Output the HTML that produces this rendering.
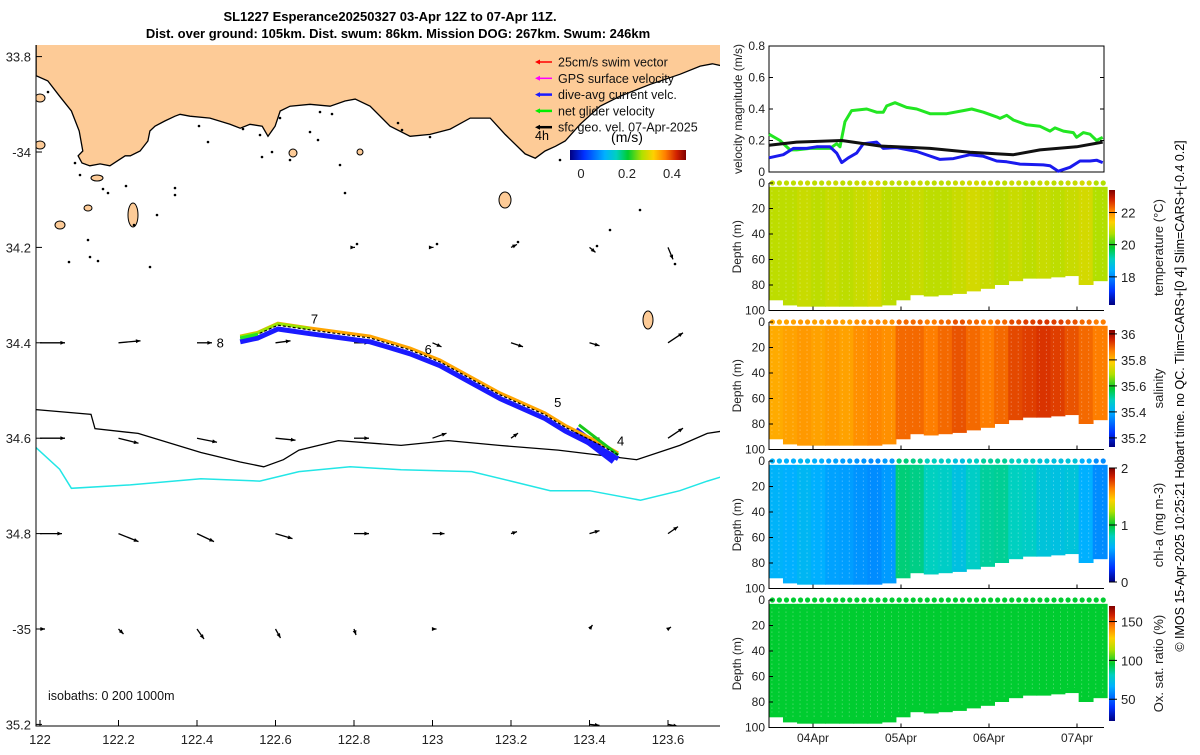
<!DOCTYPE html>
<html><head><meta charset="utf-8">
<style>
html,body{margin:0;padding:0;background:#fff;}
body{width:1200px;height:750px;overflow:hidden;font-family:"Liberation Sans",sans-serif;}
svg text{font-family:"Liberation Sans","DejaVu Sans",sans-serif;}
</style></head>
<body>
<svg id="fig" width="1200" height="750" viewBox="0 0 1200 750" xmlns="http://www.w3.org/2000/svg">
<defs>
<linearGradient id="jetH" x1="0" x2="1" y1="0" y2="0">
<stop offset="0" stop-color="#000080"/><stop offset="0.12" stop-color="#0030ff"/><stop offset="0.3" stop-color="#00b0ff"/><stop offset="0.4" stop-color="#00d0c0"/><stop offset="0.5" stop-color="#00cc30"/><stop offset="0.62" stop-color="#b0e000"/><stop offset="0.72" stop-color="#ffd000"/><stop offset="0.82" stop-color="#ff8000"/><stop offset="0.92" stop-color="#d02000"/><stop offset="1" stop-color="#800000"/>
</linearGradient>
<linearGradient id="jetV" x1="0" x2="0" y1="1" y2="0">
<stop offset="0" stop-color="#000080"/><stop offset="0.12" stop-color="#0030ff"/><stop offset="0.3" stop-color="#00b0ff"/><stop offset="0.4" stop-color="#00d0c0"/><stop offset="0.5" stop-color="#00cc30"/><stop offset="0.62" stop-color="#b0e000"/><stop offset="0.72" stop-color="#ffd000"/><stop offset="0.82" stop-color="#ff8000"/><stop offset="0.92" stop-color="#d02000"/><stop offset="1" stop-color="#800000"/>
</linearGradient>
<clipPath id="mapclip"><rect x="36" y="45" width="684" height="681"/></clipPath>
</defs>
<text x="390" y="21" font-size="13" font-weight="bold" text-anchor="middle">SL1227 Esperance20250327 03-Apr 12Z to 07-Apr 11Z.</text>
<text x="398" y="38" font-size="13" font-weight="bold" text-anchor="middle">Dist. over ground: 105km. Dist. swum: 86km. Mission DOG: 267km. Swum: 246km</text>
<g id="map"></g>
<g id="vel"></g>
<g id="sec"></g>
<text transform="translate(1184,396) rotate(-90)" font-size="12.5" text-anchor="middle">© IMOS 15-Apr-2025 10:25:21 Hobart time. no QC. Tlim=CARS+[0 4] Slim=CARS+[-0.4 0.2]</text>
</svg>
<script>
// ---------- DATA ----------
const lonTicks=[122,122.2,122.4,122.6,122.8,123,123.2,123.4,123.6];
const latTicks=[33.8,34,34.2,34.4,34.6,34.8,35,35.2];
const latTickLabels=["33.8","-34","34.2","34.4","34.6","34.8","-35","35.2"];
const coastLon=[121.99,122.02,122.05,122.08,122.1,122.109,122.097,122.107,122.127,122.153,122.178,122.217,122.23,122.255,122.275,122.28,122.293,122.318,122.344,122.357,122.382,122.433,122.484,122.51,122.535,122.566,122.581,122.599,122.612,122.637,122.688,122.739,122.777,122.803,122.841,122.892,122.943,122.994,123.045,123.096,123.147,123.185,123.236,123.262,123.287,123.313,123.338,123.376,123.427,123.478,123.555,123.631,123.682,123.713,123.74];
const coastLat=[33.84,33.851,33.883,33.914,33.956,33.998,34.008,34.023,34.029,34.025,34.029,34.008,34.008,33.998,33.977,33.956,33.946,33.935,33.925,33.921,33.925,33.929,33.942,33.95,33.942,33.946,33.967,33.946,33.914,33.904,33.9,33.904,33.893,33.889,33.904,33.946,33.967,33.963,33.952,33.929,33.929,33.963,34.004,34.013,33.998,33.988,33.977,33.942,33.904,33.883,33.858,33.837,33.82,33.815,33.82];
const iso200Lon=[121.99,122.13,122.14,122.25,122.41,122.51,122.57,122.62,122.66,122.76,122.92,123.04,123.17,123.32,123.42,123.52,123.63,123.7,123.74];
const iso200Lat=[34.54,34.55,34.58,34.59,34.63,34.65,34.66,34.645,34.625,34.605,34.615,34.605,34.615,34.625,34.635,34.645,34.615,34.59,34.585];
const iso1000Lon=[121.99,122.05,122.08,122.23,122.41,122.56,122.66,122.79,122.92,123.1,123.2,123.3,123.4,123.53,123.63,123.7,123.74];
const iso1000Lat=[34.62,34.665,34.705,34.698,34.685,34.69,34.67,34.66,34.666,34.67,34.69,34.71,34.71,34.73,34.71,34.69,34.68];
const trackLon=[122.51,122.555,122.606,122.688,122.841,122.943,123.019,123.172,123.287,123.338,123.427,123.473];
const trackLat=[34.39,34.382,34.363,34.373,34.39,34.415,34.44,34.509,34.551,34.577,34.614,34.635];
const loopLon=[123.373,123.473];
const loopLat=[34.572,34.635];
const dayLabels=["4","5","6","7","8"];
const dayLon=[123.47,123.31,122.98,122.69,122.45];
const dayLat=[34.615,34.535,34.423,34.36,34.41];
const arrLon=[122,122.2,122.4,122.6,122.8,123,123.2,123.4,123.6];
const arrLat=[34.2,34.4,34.6,34.8,35.0,35.2];
const arrU=[[0,0,0,0,0.01,0.01,0.06,0.06,0.05],[0.25,0.22,0.15,0.15,0.15,0.09,0.12,0.1,0.15],[0.25,0.2,0.2,0.2,0.15,0.14,0.07,0.1,0.15],[0.22,0.2,0.17,0.17,0.15,0.12,0.06,0.1,0.1],[0.05,0.05,0.07,0.05,0.02,0.04,0,0.03,0.03],[0,0,0,0,0,0,0,0.1,0.1]];
const arrV=[[0,0,0,0,0,0,-0.03,0.05,0.12],[0,-0.02,0,-0.02,0,0.04,0.04,0.03,-0.1],[0,0.05,0.04,0.02,0,-0.05,-0.05,0,-0.1],[0,0.08,0.08,0.05,0,0,-0.02,-0.03,-0.07],[0,0.05,0.1,0.09,0.06,0,0,-0.04,-0.02],[0,0,0,0,0,0,0,0.01,0.02]];
// velocity panel
const gT=[0,0.125,0.239,0.314,0.466,0.693,0.769,0.807,0.864,0.939,1.11,1.223,1.299,1.337,1.432,1.564,1.678,1.83,2.019,2.208,2.303,2.436,2.587,2.625,2.701,2.777,2.928,3.08,3.193,3.25,3.345,3.458,3.496,3.572,3.648,3.723,3.792];
const gV=[0.24,0.2,0.14,0.14,0.15,0.15,0.18,0.16,0.32,0.39,0.4,0.38,0.38,0.42,0.44,0.41,0.4,0.37,0.37,0.39,0.4,0.38,0.35,0.34,0.36,0.33,0.3,0.29,0.26,0.28,0.26,0.25,0.22,0.25,0.24,0.2,0.22];
const bT=[0,0.163,0.277,0.428,0.542,0.693,0.769,0.826,0.902,0.996,1.072,1.223,1.299,1.451,1.678,1.943,2.095,2.284,2.436,2.587,2.701,2.852,3.117,3.193,3.288,3.42,3.534,3.648,3.723,3.792];
const bV=[0.09,0.11,0.15,0.15,0.16,0.16,0.12,0.06,0.09,0.12,0.18,0.19,0.15,0.155,0.13,0.08,0.085,0.11,0.1,0.07,0.065,0.05,0.045,0.04,0.005,0.03,0.07,0.07,0.075,0.06];
const kT=[0,0.314,0.826,1.261,1.83,2.284,2.777,3.08,3.496,3.792];
const kV=[0.17,0.19,0.2,0.165,0.15,0.125,0.11,0.14,0.16,0.19];
const velTicks=[0,0.2,0.4,0.6,0.8];
const dateTicks=[0.5,1.5,2.5,3.5];
const dateLabels=["04Apr","05Apr","06Apr","07Apr"];
// sections: 24 columns across time (days from 03-Apr 12Z)
const colT=[0.08,0.24,0.4,0.56,0.72,0.88,1.04,1.2,1.36,1.52,1.68,1.84,2.0,2.16,2.32,2.48,2.64,2.8,2.96,3.12,3.28,3.44,3.6,3.76];
const maxDepth=[92,96,97,97,97,97,97,97,96,92,88,89,88,87,85,83,80,77,75,75,74,73,80,77];
const tempVals=[20.8,20.8,20.9,20.8,20.9,20.8,20.9,21.0,20.8,20.8,20.9,20.8,20.8,20.9,21.0,20.9,20.8,20.9,20.8,20.9,20.8,20.9,21.0,20.7];
const salVals=[35.82,35.83,35.84,35.83,35.84,35.83,35.85,35.86,35.85,35.89,35.89,35.87,35.89,35.91,35.89,35.87,35.89,35.92,35.93,35.94,35.93,35.91,35.89,35.87];
const chlVals=[0.62,0.6,0.64,0.6,0.56,0.55,0.52,0.5,0.54,0.9,0.88,0.8,0.78,0.7,0.78,0.85,0.86,0.8,0.78,0.72,0.7,0.72,0.6,0.5];
const oxVals=[96,96,96,96,96,96,96,96,96,96,96,96,96,96,96,96,96,96,96,96,96,96,96,96];
</script>
<script>
const NS="http://www.w3.org/2000/svg";
function mk(tag,attrs,parent){const e=document.createElementNS(NS,tag);for(const k in attrs)e.setAttribute(k,attrs[k]);parent.appendChild(e);return e;}
const stops=[[0,[0,0,128]],[0.12,[0,48,255]],[0.3,[0,176,255]],[0.4,[0,208,192]],[0.5,[0,204,48]],[0.62,[176,224,0]],[0.72,[255,208,0]],[0.82,[255,128,0]],[0.92,[208,32,0]],[1,[128,0,0]]];
function cmap(x){x=Math.max(0,Math.min(1,x));for(let i=1;i<stops.length;i++){if(x<=stops[i][0]){const a=stops[i-1],b=stops[i];const f=(x-a[0])/(b[0]-a[0]);const c=a[1].map((v,j)=>Math.round(v+(b[1][j]-v)*f));return `rgb(${c[0]},${c[1]},${c[2]})`;}}return "rgb(128,0,0)";}

// ---------- MAP ----------
const map=document.getElementById('map');
const X=lon=>40+(lon-122)*392.5;
const Y=lat=>152+(lat-34)*477;
const mg=mk('g',{'clip-path':'url(#mapclip)'},map);
let d=`M${X(coastLon[0])},30 `;
coastLon.forEach((l,i)=>{d+=`L${X(l).toFixed(1)},${Y(coastLat[i]).toFixed(1)} `;});
d+=`L740,30 Z`;
let land=mk('path',{d:d,fill:'#fdcb97',stroke:'#000','stroke-width':1.3},mg);


const islands=[[133,215,5,12],[505,200,6,8],[648,320,5,9],[40,98,5,4],[40,145,5,4],[97,178,6,3],[60,225,5,4],[88,208,4,3],[293,153,4,4],[360,152,3,3]];
islands.forEach(s=>{let e=mk('ellipse',{cx:s[0],cy:s[1],rx:s[2],ry:s[3],fill:'#fdcb97',stroke:'#000','stroke-width':1},mg);});
const dots=[[48,92],[75,163],[80,175],[103,189],[108,193],[88,240],[90,257],[69,262],[98,261],[126,186],[134,225],[157,215],[150,267],[175,188],[175,195],[199,126],[208,142],[243,129],[260,135],[262,157],[272,152],[280,118],[290,160],[310,132],[318,140],[320,112],[332,114],[340,165],[345,193],[357,244],[398,123],[402,130],[430,137],[437,244],[518,242],[597,246],[675,264],[560,160],[610,230],[640,210]];
dots.forEach(p=>{let e=mk('circle',{cx:p[0],cy:p[1],r:1.3,fill:'#000'},mg);});
function line(lons,lats,attrs,name){let dd='';lons.forEach((l,i)=>{dd+=(i?'L':'M')+X(l).toFixed(1)+','+Y(lats[i]).toFixed(1)+' ';});const e=mk('path',Object.assign({d:dd,fill:'none'},attrs),mg);return e;}
line(iso200Lon,iso200Lat,{stroke:'#000','stroke-width':1.3},'isobath-200m');
line(iso1000Lon,iso1000Lat,{stroke:'#22e6e6','stroke-width':1.5},'isobath-1000m');
const sc=100;
arrLat.forEach((la,r)=>{arrLon.forEach((lo,c)=>{const u=arrU[r][c],v=arrV[r][c];const len=Math.hypot(u,v);if(len<0.005)return;const x0=X(lo),y0=Y(la);const x1=x0+u*sc,y1=y0+v*sc;const a=Math.atan2(v,u);const g=mk('g',{},mg);mk('line',{x1:x0,y1:y0,x2:x1,y2:y1,stroke:'#000','stroke-width':1.3},g);const h=5;mk('polygon',{points:`${x1},${y1} ${x1-h*Math.cos(a-0.4)},${y1-h*Math.sin(a-0.4)} ${x1-h*Math.cos(a+0.4)},${y1-h*Math.sin(a+0.4)}`,fill:'#000'},g);});});
line(trackLon,trackLat.map(v=>v+0.008),{stroke:'#1a1aff','stroke-width':5,'stroke-linejoin':'round'},'dive-avg-current-vectors');
line(loopLon.map(v=>v-0.01),loopLat.map(v=>v+0.012),{stroke:'#1a1aff','stroke-width':8},'dive-avg-current-loop');
line(trackLon,trackLat.map(v=>v-0.004),{stroke:'#ffa500','stroke-width':3},'track-colored');
line(trackLon.slice(0,4),trackLat.slice(0,4).map(v=>v-0.003),{stroke:'#9be600','stroke-width':3},'track-colored-west');
line(loopLon,loopLat,{stroke:'#19c819','stroke-width':3},'net-glider-velocity-segment');
line(trackLon,trackLat,{stroke:'#000','stroke-width':1.2,'stroke-dasharray':'3,2'},'glider-track');
line([122.51,122.555],[34.39,34.382],{stroke:'#22e622','stroke-width':3},'track-start');
dayLabels.forEach((t,i)=>{const e=mk('text',{x:X(dayLon[i]),y:Y(dayLat[i]),'font-size':13},mg);e.textContent=t;});
let fr=mk('path',{d:'M36,45 V726 H720',fill:'none',stroke:'#000','stroke-width':1},map);
lonTicks.forEach(l=>{mk('line',{x1:X(l),x2:X(l),y1:726,y2:720,stroke:'#000'},map);const t=mk('text',{x:X(l),y:744,'font-size':13,'text-anchor':'middle',fill:'#222'},map);t.textContent=String(l);});
latTicks.forEach((l,i)=>{mk('line',{x1:36,x2:42,y1:Y(l),y2:Y(l),stroke:'#000'},map);const t=mk('text',{x:31,y:Y(l)+5,'font-size':13,'text-anchor':'end',fill:'#222'},map);t.textContent=latTickLabels[i];});
const leg=[['#ff0000','25cm/s swim vector'],['#ff00ff','GPS surface velocity'],['#1a1aff','dive-avg current velc.'],['#00ee00','net glider velocity'],['#000','sfc geo. vel. 07-Apr-2025']];
leg.forEach((L,i)=>{const y=62+i*16.3;const g=mk('g',{},map);mk('line',{x1:538,x2:552,y1:y,y2:y,stroke:L[0],'stroke-width':i>=2?2.5:1.5},g);mk('polygon',{points:`535,${y} 540,${y-2.5} 540,${y+2.5}`,fill:L[0]},g);const t=mk('text',{x:558,y:y+4.5,'font-size':12.5,fill:'#111'},g);t.textContent=L[1];});
let t4=mk('text',{x:535,y:140,'font-size':12.5},map);t4.textContent='4h';
let tu=mk('text',{x:627,y:142,'font-size':14,'text-anchor':'middle'},map);tu.textContent='(m/s)';
let cb=mk('rect',{x:570,y:150,width:116,height:10,fill:'url(#jetH)'},map);
[['0',581],['0.2',627],['0.4',672]].forEach(a=>{const t=mk('text',{x:a[1],y:178,'font-size':13,'text-anchor':'middle',fill:'#222'},map);t.textContent=a[0];});
let iso=mk('text',{x:48,y:700,'font-size':12.5,fill:'#111'},map);iso.textContent='isobaths: 0   200   1000m';

// ---------- VELOCITY PANEL ----------
const vel=document.getElementById('vel');
const TX=t=>769+t*88;
const VY=v=>172-v*157.5;
mk('rect',{x:769,y:46,width:335,height:126,fill:'none',stroke:'#000'},vel);
velTicks.forEach(v=>{mk('line',{x1:769,x2:773,y1:VY(v),y2:VY(v),stroke:'#000'},vel);mk('line',{x1:1104,x2:1100,y1:VY(v),y2:VY(v),stroke:'#000'},vel);const t=mk('text',{x:765,y:VY(v)+4,'font-size':12,'text-anchor':'end',fill:'#222'},vel);t.textContent=String(v);});
function vline(T,V,col,name){let dd='';T.forEach((t,i)=>{dd+=(i?'L':'M')+TX(t).toFixed(1)+','+VY(V[i]).toFixed(1)+' ';});const e=mk('path',{d:dd,fill:'none',stroke:col,'stroke-width':3,'stroke-linejoin':'round'},vel);}
vline(gT,gV,'#22e622','net-glider-speed-line');
vline(bT,bV,'#1a1aee','dive-avg-current-line');
vline(kT,kV,'#111','geostrophic-speed-line');
let vy=mk('text',{transform:'translate(742,109) rotate(-90)','font-size':12,'text-anchor':'middle',fill:'#222'},vel);vy.textContent='velocity magnitude (m/s)';

// ---------- SECTIONS ----------
const sec=document.getElementById('sec');
const panels=[
 {vals:tempVals,top:183,min:16.25,max:23.4,cbTop:190,cbBot:305,ticks:[18,20,22],label:'temperature (°C)',name:'temperature'},
 {vals:salVals,top:322,min:35.13,max:36.03,cbTop:330,cbBot:447,ticks:[35.2,35.4,35.6,35.8,36],label:'salinity',name:'salinity'},
 {vals:chlVals,top:461,min:0,max:2,cbTop:468,cbBot:582,ticks:[0,1,2],label:'chl-a (mg m-3)',name:'chl-a'},
 {vals:oxVals,top:600,min:22,max:170,cbTop:606,cbBot:721,ticks:[50,100,150],label:'Ox. sat. ratio (%)',name:'oxygen'}];
const colW=14.3;
panels.forEach((P,pi)=>{
 const g=mk('g',{},sec);
 const DY=z=>P.top+z*1.275;
 P.vals.forEach((v,i)=>{const x=TX(colT[i])-colW/2;const r=mk('rect',{x:x,y:DY(3),width:colW+0.6,height:DY(maxDepth[i])-DY(3),fill:cmap((v-P.min)/(P.max-P.min))},g);
  for(let k=0;k<2;k++){const c=mk('circle',{cx:x+3.5+k*7,cy:DY(0),r:2.6,fill:cmap((v-P.min)/(P.max-P.min))},g);}
  for(let k=0;k<2;k++){mk('line',{x1:x+3+k*7,x2:x+3+k*7,y1:DY(6),y2:DY(maxDepth[i]-4),stroke:'rgba(255,255,255,0.4)','stroke-width':1,'stroke-dasharray':'1,3'},g);}
 });
 mk('path',{d:`M769,${DY(0)} V${DY(100)} H1104`,fill:'none',stroke:'#000'},g);
 [0,20,40,60,80,100].forEach(z=>{mk('line',{x1:769,x2:773,y1:DY(z),y2:DY(z),stroke:'#000'},g);const t=mk('text',{x:765,y:DY(z)+4,'font-size':12,'text-anchor':'end',fill:'#222'},g);t.textContent=String(z);});
 dateTicks.forEach(t=>{mk('line',{x1:TX(t),x2:TX(t),y1:DY(100),y2:DY(100)-4,stroke:'#000'},g);});
 const yl=mk('text',{transform:`translate(741,${DY(50)}) rotate(-90)`,'font-size':12,'text-anchor':'middle',fill:'#222'},g);yl.textContent='Depth (m)';
 const cb=mk('rect',{x:1109,y:P.cbTop,width:6,height:P.cbBot-P.cbTop,fill:'url(#jetV)'},g);
 const CY=v=>P.cbBot-(v-P.min)/(P.max-P.min)*(P.cbBot-P.cbTop);
 P.ticks.forEach(v=>{mk('line',{x1:1109,x2:1117,y1:CY(v),y2:CY(v),stroke:'#000'},g);const t=mk('text',{x:1121,y:CY(v)+5,'font-size':13,fill:'#222'},g);t.textContent=String(v);});
 const cl=mk('text',{transform:`translate(1163,${(P.cbTop+P.cbBot)/2}) rotate(-90)`,'font-size':13,'text-anchor':'middle',fill:'#222'},g);cl.textContent=P.label;
});
dateTicks.forEach((t,i)=>{const e=mk('text',{x:TX(t),y:742,'font-size':12,'text-anchor':'middle',fill:'#222'},sec);e.textContent=dateLabels[i];});
</script>
</body></html>
